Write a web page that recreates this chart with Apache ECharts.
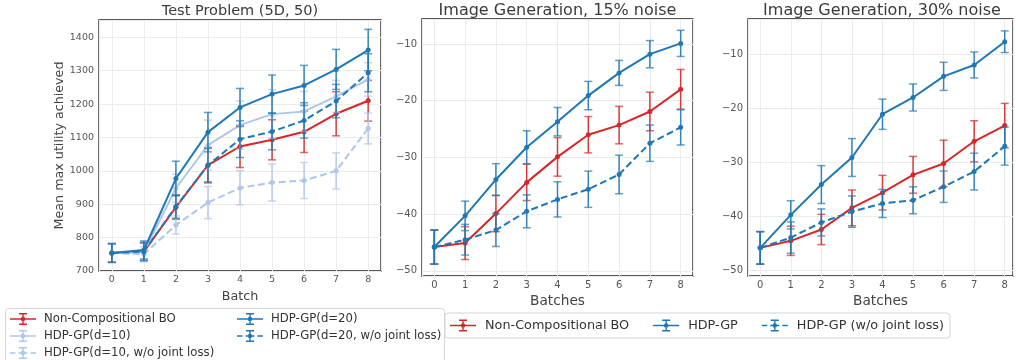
<!DOCTYPE html>
<html>
<head>
<meta charset="utf-8">
<script src="https://cdn.jsdelivr.net/npm/echarts@6/dist/echarts.min.js"></script>
<style>
  html, body { margin: 0; padding: 0; background: #fff; }
  #chart { width: 1016px; height: 360px; }
</style>
</head>
<body>
<div id="chart"></div>
<script>
const batches = [0, 1, 2, 3, 4, 5, 6, 7, 8];

// Test Problem (5D, 50)
const testNonComp = [754, 758, 891, 1017, 1073, 1093, 1117, 1171, 1210];
const testNonCompErr = [28, 27, 36, 53, 63, 60, 62, 66, 61];
const testD10 = [754, 757, 948, 1077, 1137, 1170, 1178, 1223, 1274];
const testD10Err = [28, 25, 42, 75, 72, 73, 60, 48, 50];
const testD10NoJoint = [754, 750, 838, 905, 949, 965, 971, 1000, 1127];
const testD10NoJointErr = [28, 22, 27, 48, 51, 55, 54, 54, 46];
const testD20 = [754, 763, 977, 1116, 1190, 1230, 1256, 1304, 1362];
const testD20Err = [28, 27, 52, 59, 57, 57, 60, 60, 62];
const testD20NoJoint = [754, 758, 893, 1017, 1095, 1118, 1151, 1209, 1294];
const testD20NoJointErr = [28, 27, 35, 50, 55, 55, 53, 50, 57];

// Image Generation, 15% noise
const img15NonComp = [-45.8, -45.1, -39.9, -34.4, -29.9, -26.0, -24.3, -21.9, -18.0];
const img15NonCompErr = [3.0, 2.9, 3.2, 3.2, 3.4, 3.2, 3.3, 3.4, 3.5];
const img15Hdp = [-45.8, -40.3, -33.9, -28.2, -23.7, -19.1, -15.1, -11.8, -9.9];
const img15HdpErr = [3.0, 2.6, 2.8, 2.9, 2.5, 2.5, 2.2, 2.4, 2.3];
const img15NoJoint = [-45.8, -44.5, -42.8, -39.5, -37.4, -35.6, -33.0, -27.5, -24.7];
const img15NoJointErr = [3.0, 2.7, 2.9, 2.9, 3.1, 3.2, 3.4, 3.2, 3.1];

// Image Generation, 30% noise
const img30NonComp = [-45.8, -44.5, -42.4, -38.4, -35.6, -32.3, -30.2, -26.1, -23.2];
const img30NonCompErr = [3.0, 2.7, 2.8, 3.3, 3.2, 3.4, 4.3, 3.8, 4.1];
const img30Hdp = [-45.8, -39.7, -34.1, -29.1, -21.1, -18.0, -14.1, -12.0, -7.7];
const img30HdpErr = [3.0, 2.6, 3.5, 3.5, 2.8, 2.5, 2.6, 2.4, 2.0];
const img30NoJoint = [-45.8, -43.9, -41.1, -39.1, -37.6, -37.0, -34.5, -31.7, -27.0];
const img30NoJointErr = [3.0, 2.9, 2.5, 2.9, 2.6, 2.5, 2.9, 3.4, 3.5];

const RED = '#d62728';
const BLUE = '#1f77b4';
const LIGHT = '#aec7e8';
const FONT = 'DejaVu Sans';

const chart = echarts.init(document.getElementById('chart'));

function errorBars(params, api) {
  const x = api.value(0);
  const lo = api.coord([x, api.value(1)]);
  const hi = api.coord([x, api.value(2)]);
  const w = 4;
  const color = api.visual('color');
  const bar = { stroke: color, lineWidth: 1.5, opacity: 0.9 };
  const cap = { stroke: color, lineWidth: 1.5, opacity: 0.7 };
  return {
    type: 'group',
    children: [
      { type: 'line', shape: { x1: lo[0], y1: lo[1], x2: hi[0], y2: hi[1] }, style: bar },
      { type: 'line', shape: { x1: lo[0] - w, y1: lo[1], x2: lo[0] + w, y2: lo[1] }, style: cap },
      { type: 'line', shape: { x1: hi[0] - w, y1: hi[1], x2: hi[0] + w, y2: hi[1] }, style: cap },
    ],
  };
}

function lineWithErr(grid, name, means, errs, color, dashed, z) {
  return [
    {
      name: 'err ' + name + ' ' + grid,
      type: 'custom',
      xAxisIndex: grid,
      yAxisIndex: grid,
      renderItem: errorBars,
      itemStyle: { color },
      encode: { x: 0, y: [1, 2] },
      data: batches.map((b, i) => [b, means[i] - errs[i], means[i] + errs[i]]),
      z: z,
      silent: true,
    },
    {
      name,
      type: 'line',
      xAxisIndex: grid,
      yAxisIndex: grid,
      data: batches.map((b, i) => [b, means[i]]),
      symbol: 'circle',
      symbolSize: 5,
      itemStyle: { color, borderWidth: 0 },
      lineStyle: { color, width: 2, type: dashed ? [7, 3.5] : 'solid' },
      z: z + 1,
    },
  ];
}

const tickFmt = (step) => (v) => {
  if (Math.abs(v / step - Math.round(v / step)) > 1e-6) return '';
  return String(Math.round(v)).replace('-', '\u2212');
};

function xAxis(grid, name, fs, nameFs, nameGap, max) {
  return {
    gridIndex: grid,
    type: 'value',
    min: -0.4,
    max: max,
    minInterval: 1,
    maxInterval: 1,
    axisLine: { show: false },
    axisTick: { show: false },
    axisLabel: { color: '#555', fontSize: fs, fontFamily: FONT, margin: 4, formatter: tickFmt(1) },
    splitLine: { show: true, lineStyle: { color: '#ebebeb', width: 1 } },
    name,
    nameLocation: 'middle',
    nameGap,
    nameTextStyle: { color: '#444', fontSize: nameFs, fontFamily: FONT },
  };
}

function yAxis(grid, min, max, step, fs) {
  return {
    gridIndex: grid,
    type: 'value',
    min,
    max,
    minInterval: step,
    maxInterval: step,
    axisLine: { show: false },
    axisTick: { show: false },
    axisLabel: { color: '#555', fontSize: fs, fontFamily: FONT, margin: 5, formatter: tickFmt(step) },
    splitLine: { show: true, lineStyle: { color: '#ebebeb', width: 1 } },
  };
}

const gridStyle = { show: true, borderColor: '#222', borderWidth: 1.3, backgroundColor: '#fff' };

// legend icons: horizontal line, error bar with caps and a dot
const dot = 'M10.7 6 A2.3 2.3 0 1 1 15.3 6 A2.3 2.3 0 1 1 10.7 6 Z';
const barCaps = 'M12.3 0 H13.7 V12 H12.3 Z M9 0 H17 V1.4 H9 Z M9 10.6 H17 V12 H9 Z';
const solidIcon = 'path://M0 5.2 H26 V6.8 H0 Z ' + barCaps + ' ' + dot;
const dashIcon = 'path://M0 5.2 H5.5 V6.8 H0 Z M8.5 5.2 H17.5 V6.8 H8.5 Z M20.5 5.2 H26 V6.8 H20.5 Z ' + barCaps + ' ' + dot;

const legendBase = {
  orient: 'vertical',
  itemWidth: 26,
  itemHeight: 12,
  itemGap: 5,
  padding: 0,
  icon: solidIcon,
  itemStyle: { borderWidth: 0 },
  textStyle: { color: '#333', fontSize: 11.7, fontFamily: FONT, padding: [0, 0, 0, 3] },
  selectedMode: false,
};

chart.setOption({
  animation: false,
  backgroundColor: '#fff',
  grid: [
    Object.assign({ left: 99, top: 20, width: 282, height: 251 }, gridStyle),
    Object.assign({ left: 422, top: 19, width: 271, height: 257 }, gridStyle),
    Object.assign({ left: 748, top: 19, width: 267, height: 257 }, gridStyle),
  ],
  xAxis: [
    xAxis(0, 'Batch', 9.5, 12.7, 9, 8.4),
    xAxis(1, 'Batches', 10, 13.7, 11, 8.4),
    xAxis(2, 'Batches', 10, 13.7, 11, 8.27),
  ],
  yAxis: [
    Object.assign(yAxis(0, 700, 1452, 100, 9.5), {
      name: 'Mean max utility achieved',
      nameLocation: 'middle',
      nameGap: 28,
      nameTextStyle: { color: '#444', fontSize: 12.7, fontFamily: FONT },
    }),
    yAxis(1, -50.9, -5.6, 10, 10),
    yAxis(2, -51, -3.5, 10, 10),
  ],
  legend: [
    Object.assign({}, legendBase, {
      left: 10,
      top: 313,
      data: [
        { name: 'Non-Compositional BO', icon: solidIcon },
        { name: 'HDP-GP(d=10)', icon: solidIcon },
        { name: 'HDP-GP(d=10, w/o joint loss)', icon: dashIcon },
      ],
    }),
    Object.assign({}, legendBase, {
      left: 237,
      top: 313,
      data: [
        { name: 'HDP-GP(d=20)', icon: solidIcon },
        { name: 'HDP-GP(d=20, w/o joint loss)', icon: dashIcon },
      ],
    }),
    Object.assign({}, legendBase, {
      orient: 'horizontal',
      left: 445,
      top: 313,
      itemGap: 24,
      padding: [6, 6, 6, 5],
      borderColor: '#d5d5d5',
      borderWidth: 1,
      borderRadius: 3,
      textStyle: { color: '#333', fontSize: 12.8, fontFamily: FONT, padding: [0, 0, 0, 4] },
      data: [
        { name: 'Non-Compositional BO', icon: solidIcon },
        { name: 'HDP-GP', icon: solidIcon },
        { name: 'HDP-GP (w/o joint loss)', icon: dashIcon },
      ],
    }),
  ],
  graphic: [
    { type: 'rect', left: 5, top: 308, shape: { width: 439, height: 70, r: 3 }, style: { fill: '#fff', stroke: '#d5d5d5', lineWidth: 1 }, z: -1 },
    { type: 'text', x: 240, y: 11, style: { text: 'Test Problem (5D, 50)', fill: '#3b3b3b', fontSize: 14.5, fontFamily: FONT, textAlign: 'center', textVerticalAlign: 'middle' } },
    { type: 'text', x: 557.5, y: 10.5, style: { text: 'Image Generation, 15% noise', fill: '#3b3b3b', fontSize: 16, fontFamily: FONT, textAlign: 'center', textVerticalAlign: 'middle' } },
    { type: 'text', x: 882, y: 10.5, style: { text: 'Image Generation, 30% noise', fill: '#3b3b3b', fontSize: 16, fontFamily: FONT, textAlign: 'center', textVerticalAlign: 'middle' } },
  ],
  series: [
    ...lineWithErr(0, 'Non-Compositional BO', testNonComp, testNonCompErr, RED, false, 2),
    ...lineWithErr(0, 'HDP-GP(d=10)', testD10, testD10Err, LIGHT, false, 4),
    ...lineWithErr(0, 'HDP-GP(d=10, w/o joint loss)', testD10NoJoint, testD10NoJointErr, LIGHT, true, 6),
    ...lineWithErr(0, 'HDP-GP(d=20)', testD20, testD20Err, BLUE, false, 8),
    ...lineWithErr(0, 'HDP-GP(d=20, w/o joint loss)', testD20NoJoint, testD20NoJointErr, BLUE, true, 10),

    ...lineWithErr(1, 'Non-Compositional BO', img15NonComp, img15NonCompErr, RED, false, 2),
    ...lineWithErr(1, 'HDP-GP', img15Hdp, img15HdpErr, BLUE, false, 4),
    ...lineWithErr(1, 'HDP-GP (w/o joint loss)', img15NoJoint, img15NoJointErr, BLUE, true, 6),

    ...lineWithErr(2, 'Non-Compositional BO', img30NonComp, img30NonCompErr, RED, false, 2),
    ...lineWithErr(2, 'HDP-GP', img30Hdp, img30HdpErr, BLUE, false, 4),
    ...lineWithErr(2, 'HDP-GP (w/o joint loss)', img30NoJoint, img30NoJointErr, BLUE, true, 6),
  ],
});
</script>
</body>
</html>
